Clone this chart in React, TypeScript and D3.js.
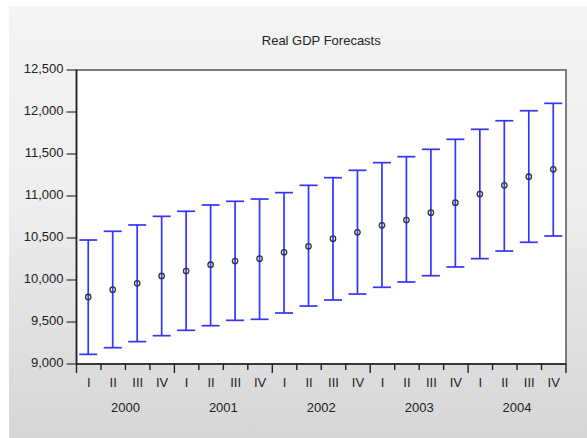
import { useEffect } from "react"
import * as d3 from "d3"

const years = ["2000", "2001", "2002", "2003", "2004"]
const quarters = ["I", "II", "III", "IV"]
const forecast = [9798, 9885, 9960, 10048, 10107, 10182, 10226, 10254, 10329, 10401, 10492, 10568, 10651, 10714, 10802, 10921, 11024, 11127, 11230, 11318]
const lower = [9115, 9194, 9266, 9337, 9401, 9456, 9520, 9532, 9607, 9690, 9762, 9833, 9913, 9976, 10051, 10155, 10254, 10345, 10449, 10524]
const upper = [10476, 10580, 10655, 10758, 10818, 10893, 10937, 10964, 11040, 11127, 11218, 11306, 11397, 11468, 11556, 11675, 11794, 11896, 12015, 12103]
const yTicks = [9000, 9500, 10000, 10500, 11000, 11500, 12000, 12500]

const W = 587
const H = 438
const FONT = "'Liberation Sans', Arial, sans-serif"

export default function App() {
  useEffect(() => {
    document.body.style.margin = "0"
  }, [])

  const periods = years.flatMap((y) => quarters.map((q) => `${y}-${q}`))
  const left = 76.5
  const right = 566
  const top = 70
  const bottom = 364

  const x = d3.scaleBand<string>().domain(periods).range([left, right])
  const y = d3.scaleLinear().domain([9000, 12500]).range([bottom, top])
  const fmt = d3.format(",")
  const blue = "#3434ff"
  const cap = 9

  return (
    <svg width={W} height={H} style={{ display: "block", fontFamily: FONT }}>
      <defs>
        <linearGradient id="bg" x1="0" y1="0" x2="0" y2="1">
          <stop offset="0" stopColor="#f4f4f4" />
          <stop offset="0.45" stopColor="#eeeeee" />
          <stop offset="1" stopColor="#d6d6d6" />
        </linearGradient>
      </defs>
      <rect x={0} y={0} width={W} height={H} fill="#fff" />
      <rect x={9} y={6} width={W - 9} height={H - 6} fill="url(#bg)" />

      <text x={(left + right) / 2} y={42} textAnchor="middle" dominantBaseline="middle" fontSize={13} fill="#222">
        Real GDP Forecasts
      </text>

      <rect x={left} y={top} width={right - left} height={bottom - top} fill="#fff" stroke="#555" strokeWidth={1.5} />

      {/* y axis */}
      {yTicks.map((t) => (
        <g key={t}>
          <line x1={left - 10} x2={left} y1={y(t)} y2={y(t)} stroke="#333" strokeWidth={1.2} />
          <text x={left - 13} y={y(t)} textAnchor="end" dominantBaseline="middle" fontSize={13} fill="#222">
            {fmt(t)}
          </text>
        </g>
      ))}
      <line x1={left} x2={left} y1={top} y2={bottom} stroke="#222" strokeWidth={1.6} />
      <line x1={left} x2={right} y1={bottom} y2={bottom} stroke="#222" strokeWidth={1.6} />

      {/* x axis */}
      {periods.map((p, i) => (
        <line
          key={`t${p}`}
          x1={x(p)!}
          x2={x(p)!}
          y1={bottom}
          y2={bottom + (i % 4 === 0 ? 9 : 6)}
          stroke="#222"
          strokeWidth={1.4}
        />
      ))}
      <line x1={right} x2={right} y1={bottom} y2={bottom + 9} stroke="#222" strokeWidth={1.4} />
      {periods.map((p, i) => (
        <text
          key={`q${p}`}
          x={x(p)! + x.bandwidth() / 2}
          y={384}
          textAnchor="middle"
          dominantBaseline="middle"
          fontSize={13}
          fill="#222"
        >
          {quarters[i % 4]}
        </text>
      ))}
      {years.map((yr) => (
        <text
          key={yr}
          x={x(`${yr}-II`)! + x.bandwidth()}
          y={409}
          textAnchor="middle"
          dominantBaseline="middle"
          fontSize={13}
          fill="#222"
        >
          {yr}
        </text>
      ))}

      {/* error bars */}
      {periods.map((p, i) => {
        const cx = x(p)! + x.bandwidth() / 2 - 0.5
        return (
          <g key={`e${p}`}>
            <line x1={cx} x2={cx} y1={y(lower[i])} y2={y(upper[i])} stroke={blue} strokeWidth={1.7} />
            <line x1={cx - cap} x2={cx + cap} y1={y(lower[i])} y2={y(lower[i])} stroke={blue} strokeWidth={1.7} />
            <line x1={cx - cap} x2={cx + cap} y1={y(upper[i])} y2={y(upper[i])} stroke={blue} strokeWidth={1.7} />
            <circle cx={cx} cy={y(forecast[i])} r={2.7} fill="none" stroke="#333" strokeWidth={1.3} />
          </g>
        )
      })}
    </svg>
  )
}
